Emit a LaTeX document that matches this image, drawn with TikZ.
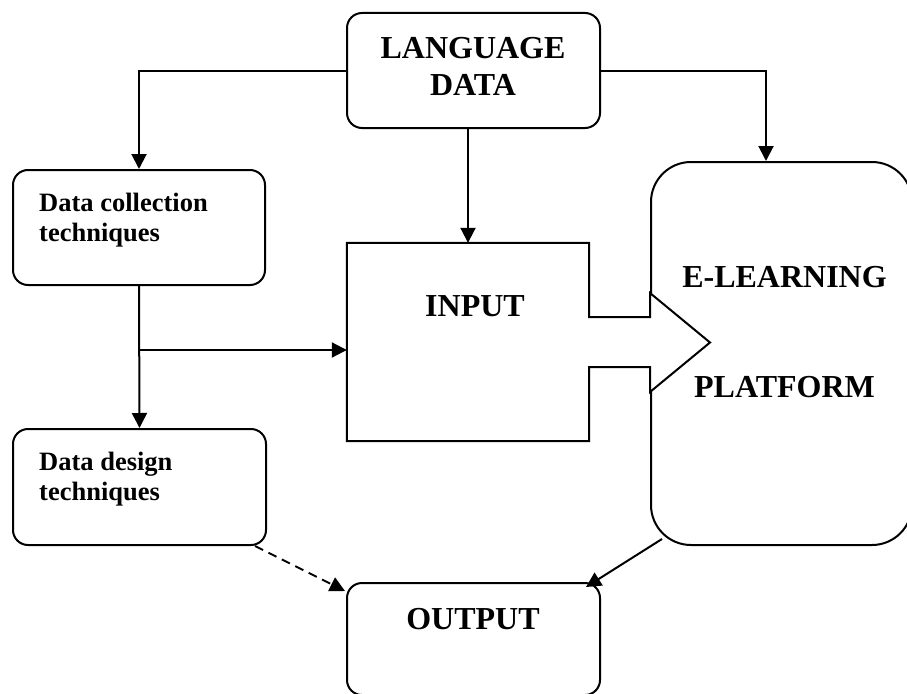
\documentclass[tikz,border=0pt]{standalone}
\usepackage{fontspec}
\setmainfont{Liberation Serif}
\usetikzlibrary{arrows.meta,positioning,calc}
\tikzset{
  box/.style={draw, line width=2pt, rounded corners=15pt, inner sep=0pt},
  link/.style={line width=2pt, -{Triangle[length=15pt,width=15pt]}},
  bigtext/.style={font=\fontsize{32}{37}\selectfont\bfseries, align=center, inner sep=0pt},
  smalltext/.style={font=\fontsize{26.5}{30}\selectfont\bfseries, align=left, inner sep=0pt, anchor=north west}
}

\begin{document}
\begin{tikzpicture}[x=1pt,y=-1pt]
    \useasboundingbox (0,0) rectangle (907,693);
  % Top box
  \node[box, minimum width=253pt, minimum height=115pt] (lang) at (473.5,70.5) {};
  \node[bigtext] (langtext) at (473,66) {LANGUAGE\\DATA};

  % Left boxes
  \node[box, minimum width=252pt, minimum height=115pt] (collect) at (139,227.5) {};
  \node[smalltext] (collecttext) at (39,192.5) {Data collection\\techniques};
  \node[box, minimum width=253pt, minimum height=116pt] (design) at (139.5,487) {};
  \node[smalltext] (designtext) at (39,452) {Data design\\techniques};

  % Platform box
  \node[box, rounded corners=40pt, minimum width=261pt, minimum height=383pt] (elearn) at (781.5,353.5) {};
  \node[bigtext] (elearntext) at (784.5,332.5) {E-LEARNING\\[73pt]PLATFORM};

  % Input box with its arrow into the platform
  \node[minimum width=242pt, minimum height=198pt, inner sep=0pt] (input) at (468,342) {};
  \draw[line width=2pt, fill=white]
    (input.north west) -- (input.north east) -- (589,317) -- (650,317) --
    (650,293) -- (710,342.5) -- (650,392) -- (650,367) -- (589,367) --
    (input.south east) -- (input.south west) -- cycle;
  \node[bigtext] (inputtext) at (475,306.5) {INPUT};

  % Output box, runs off the bottom
  \node[box, minimum width=253pt, minimum height=112pt] (output) at (473.5,639) {};
  \node[bigtext] (outputtext) at (473,619) {OUTPUT};

  % Connectors
  \draw[link] (lang.west) -| (collect.north);
  \draw[link] (lang.east) -| ([xshift=-15.5pt]elearn.north);
  \draw[link] (lang.south -| input.north) -- (input.north);
  \draw[link] (collect.south) -- (design.north);
  \coordinate (split) at (139,350);
  \draw[link] (split) -- (split -| input.west);
  \draw[link, dash pattern=on 9pt off 6pt]
    ($(design.south east)+(-12,0)$) -- ($(output.north west)+(-1,9)$);
  \draw[link] ($(elearn.south west)+(12,-7)$) -- ($(output.north east)+(-15,5)$);

\end{tikzpicture}
\end{document}
